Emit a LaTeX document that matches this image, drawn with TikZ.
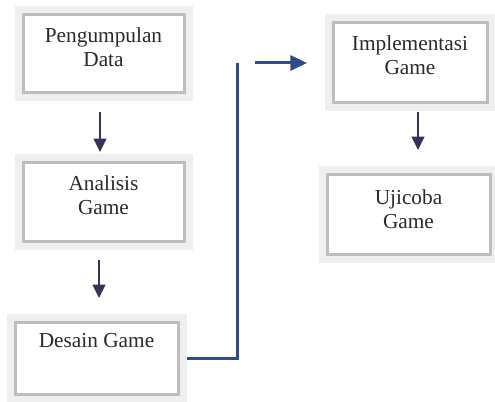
\documentclass[tikz,border=0pt]{standalone}
\usepackage{fontspec}
\setmainfont{Liberation Serif}
\usetikzlibrary{arrows.meta}
\newcommand{\pxu}{0.03cm}
\definecolor{framegray}{HTML}{BDBDBD}
\definecolor{haze}{HTML}{EFEFEF}
\definecolor{inkpurple}{HTML}{3B2E5A}
\definecolor{navyline}{HTML}{2E4C8C}
\definecolor{textgray}{HTML}{2A2A2A}
\tikzset{
  stagebox/.style={draw=framegray, line width=3*\pxu, fill=white,
    preaction={draw=haze, line width=17*\pxu}},
  stagetext/.style={align=center, text=textgray, inner sep=0pt,
    font=\fontsize{18.2}{20.5}\selectfont},
  downarrow/.style={draw=inkpurple, line width=2*\pxu,
    -{Triangle[length=0.4cm, width=0.38cm]}},
  navyarrow/.style={draw=navyline, line width=3*\pxu,
    -{Triangle[length=0.5cm, width=0.45cm]}}
}
\begin{document}
\begin{tikzpicture}[x=\pxu, y=-\pxu]
\useasboundingbox (0,0) rectangle (495,402);
% left column
\node[stagebox, minimum width=161*\pxu, minimum height=78*\pxu,
  label={[stagetext, yshift=6.5*\pxu]center:Pengumpulan\\Data}] (kumpul) at (103.5,54) {};
\node[stagebox, minimum width=161*\pxu, minimum height=79*\pxu,
  label={[stagetext, yshift=7.5*\pxu]center:Analisis\\Game}] (analisis) at (103.5,202.5) {};
\node[stagebox, minimum width=163*\pxu, minimum height=72*\pxu,
  label={[stagetext, yshift=18*\pxu]center:Desain Game}] (desain) at (96.5,359) {};
% right column
\node[stagebox, minimum width=154*\pxu, minimum height=80*\pxu,
  label={[stagetext, yshift=8*\pxu]center:Implementasi\\Game}] (impl) at (410,63) {};
\node[stagebox, minimum width=163*\pxu, minimum height=80*\pxu,
  label={[stagetext, yshift=6*\pxu]center:Ujicoba\\Game}] (uji) at (408.5,215) {};
% arrows
\draw[downarrow, shorten <=17.5*\pxu, shorten >=9.5*\pxu]
  ([xshift=-3.5*\pxu]kumpul.south) -- ([xshift=-3.5*\pxu]analisis.north);
\draw[downarrow, shorten <=16.5*\pxu, shorten >=23.5*\pxu]
  ([xshift=-4.5*\pxu]analisis.south) -- ([xshift=-4.5*\pxu]analisis.south |- desain.north);
\draw[downarrow, shorten <=7.5*\pxu, shorten >=23.5*\pxu]
  ([xshift=8*\pxu]impl.south) -- ([xshift=8*\pxu]impl.south |- uji.north);
% connector to the right column
\coordinate (bend) at (237,63);
\coordinate (resume) at (255,63);
\draw[navyline, line width=3*\pxu, line join=miter, shorten <=7.5*\pxu]
  (desain.east) -| (bend);
\draw[navyarrow, shorten >=24.5*\pxu] (resume) -- (impl.west);
\end{tikzpicture}
\end{document}
